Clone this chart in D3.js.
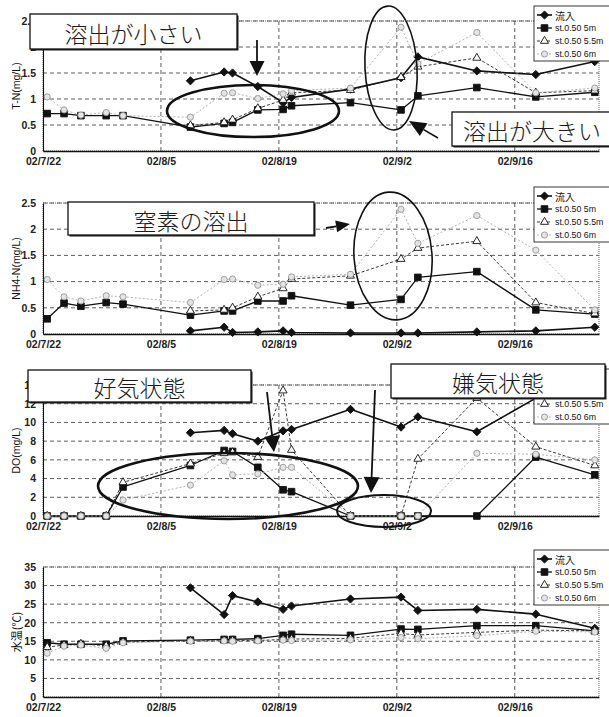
<!DOCTYPE html>
<html>
<head>
<meta charset="utf-8">
<script src="https://cdn.jsdelivr.net/npm/d3@7"></script>
<style>
  html, body { margin: 0; padding: 0; background: #fff; }
  svg { display: block; }
  .tick text { font-family: "Liberation Sans Narrow", "Liberation Sans", Arial, sans-serif; font-size: 10.5px; font-weight: bold; fill: #222; }
  .ytitle { font-family: "Liberation Sans Narrow", "Liberation Sans", Arial, sans-serif; font-size: 10.5px; fill: #111; }
  .legend text { font-family: "Liberation Sans", sans-serif; font-size: 8.8px; fill: #111; }
  .note { font-family: "Noto Sans CJK JP", sans-serif; font-weight: 300; font-size: 23px; fill: #1a1a1a; }
</style>
</head>
<body>
<svg id="chart" width="609" height="717"></svg>
<script>
// Sampling dates
const dates = ["2002-07-22","2002-07-24","2002-07-26","2002-07-29","2002-07-31",
  "2002-08-08","2002-08-12","2002-08-13","2002-08-16","2002-08-19","2002-08-20",
  "2002-08-27","2002-09-02","2002-09-04","2002-09-11","2002-09-18","2002-09-25"];
const xTickDates = ["2002-07-22","2002-08-05","2002-08-19","2002-09-02","2002-09-16"];
const seriesNames = ["流入", "st.0.50 5m", "st.0.50 5.5m", "st.0.50 6m"];

// T-N (mg/L)
const tnInflow = [null,null,null,null,null,1.35,1.52,1.50,1.24,0.93,1.03,1.19,1.41,1.81,1.54,1.47,1.72];
const tn5m     = [0.72,0.72,0.68,0.68,0.68,0.46,0.53,0.55,0.79,0.80,0.87,0.93,0.79,1.06,1.22,1.04,1.13];
const tn55m    = [null,null,null,null,null,0.49,0.55,0.60,0.82,0.98,1.12,1.17,1.42,1.62,1.79,1.12,1.16];
const tn6m     = [1.04,0.79,0.69,0.74,0.68,0.65,1.11,1.12,1.01,1.10,1.16,1.21,2.38,1.68,2.28,1.12,1.21];
const tnTicks  = [0,0.5,1,1.5,2,2.5];

// NH4-N (mg/L)
const nh4Inflow = [null,null,null,null,null,0.06,0.13,0.03,0.04,0.06,0.03,0.02,0.02,0.02,0.04,0.06,0.13];
const nh45m     = [0.29,0.59,0.53,0.60,0.57,0.36,0.44,0.44,0.63,0.63,0.73,0.55,0.66,1.08,1.19,0.46,0.38];
const nh455m    = [null,null,null,null,null,0.44,0.46,0.50,0.71,0.87,1.05,1.11,1.43,1.64,1.77,0.60,0.39];
const nh46m     = [1.04,0.71,0.63,0.73,0.71,0.60,1.04,1.05,0.93,0.95,1.09,1.14,2.38,1.73,2.26,1.60,0.46];
const nh4Ticks  = [0,0.5,1,1.5,2,2.5];

// DO (mg/L)
const doInflow = [null,null,null,null,null,8.9,9.15,8.8,8.0,9.1,9.25,11.4,9.5,10.6,9.0,12.6,12.2];
const do5m     = [0,0,0,0,3.1,5.4,7.0,6.9,5.2,2.8,2.6,0,0,0,0,6.3,4.4];
const do55m    = [0,0,0,0,3.6,5.6,6.7,6.8,6.3,13.4,7.05,0,0,6.1,12.6,7.4,5.4];
const do6m     = [0,0,0,0,1.7,3.3,5.9,4.4,4.5,5.2,5.2,0,0,0,6.7,6.6,6.0];
const doTicks  = [0,2,4,6,8,10,12,14];

// Water temperature (°C)
const tempInflow = [null,null,null,null,null,29.4,22.2,27.3,25.6,23.6,24.5,26.4,26.9,23.3,23.6,22.3,18.5];
const temp5m     = [14.6,14.2,14.2,14.2,15.1,15.3,15.5,15.5,15.7,16.6,16.9,16.6,18.3,18.2,19.2,19.2,17.8];
const temp55m    = [13.4,14.0,14.3,13.8,14.8,15.1,15.2,15.2,15.2,15.5,15.6,15.8,17.1,16.7,17.4,18.0,17.8];
const temp6m     = [11.8,13.7,14.0,13.1,14.6,15.0,15.1,15.0,15.1,15.3,15.2,15.4,16.0,15.7,16.5,17.7,17.5];
const tempTicks  = [0,5,10,15,20,25,30,35];

const svg = d3.select("#chart");
const parse = d3.utcParse("%Y-%m-%d");
const HALF_DAY = 12 * 3600 * 1000;

const x = d3.scaleUtc()
  .domain([parse("2002-07-22"), parse("2002-09-26")])
  .range([43, 599]);

const panels = [
  { top: 21,  bottom: 151, ticks: tnTicks,   title: "T-N(mg/L)",   data: [tnInflow, tn5m, tn55m, tn6m],       legendTop: 6 },
  { top: 203, bottom: 334, ticks: nh4Ticks,  title: "NH4-N(mg/L)", data: [nh4Inflow, nh45m, nh455m, nh46m],   legendTop: 187 },
  { top: 385, bottom: 516, ticks: doTicks,   title: "DO(mg/L)",    data: [doInflow, do5m, do55m, do6m],       legendTop: 369 },
  { top: 567, bottom: 697, ticks: tempTicks, title: "水温(℃)",     data: [tempInflow, temp5m, temp55m, temp6m], legendTop: 550 }
];

const diamond = { draw(ctx, size) { const h = Math.sqrt(size / 2); ctx.moveTo(0, -h); ctx.lineTo(h, 0); ctx.lineTo(0, h); ctx.lineTo(-h, 0); ctx.closePath(); } };

const styles = [
  { stroke: "#111", width: 1.6, dash: null,  symbol: diamond,           size: 34, fill: "#111", mstroke: "#111" },
  { stroke: "#111", width: 1.3, dash: null,  symbol: d3.symbolSquare,   size: 44, fill: "#111", mstroke: "#111" },
  { stroke: "#222", width: 0.9, dash: "3,2", symbol: d3.symbolTriangle, size: 28, fill: "#fff", mstroke: "#111" },
  { stroke: "#a8a8a8", width: 0.9, dash: "2,2", symbol: d3.symbolCircle, size: 30, fill: "#e4e4e4", mstroke: "#959595" }
];

panels.forEach((p, pi) => {
  const y = d3.scaleLinear().domain([0, d3.max(p.ticks)]).range([p.bottom, p.top]);
  const g = svg.append("g");

  // horizontal grid
  g.append("g").selectAll("line").data(p.ticks.filter(t => t > 0)).join("line")
    .attr("x1", x.range()[0]).attr("x2", x.range()[1])
    .attr("y1", d => y(d)).attr("y2", d => y(d))
    .attr("stroke", "#333").attr("stroke-width", 0.8).attr("stroke-dasharray", "4,3");
  // vertical grid
  g.append("g").selectAll("line").data(xTickDates.slice(1).map(parse)).join("line")
    .attr("x1", d => x(d)).attr("x2", d => x(d))
    .attr("y1", p.top).attr("y2", p.bottom)
    .attr("stroke", "#333").attr("stroke-width", 0.8).attr("stroke-dasharray", "4,3");
  // plot frame
  g.append("rect").attr("x", x.range()[0]).attr("y", p.top)
    .attr("width", x.range()[1] - x.range()[0]).attr("height", p.bottom - p.top)
    .attr("fill", "none").attr("stroke", "#666").attr("stroke-width", 1).attr("stroke-dasharray", "1,1");

  // axes
  const ya = g.append("g").attr("transform", `translate(${x.range()[0]},0)`)
    .call(d3.axisLeft(y).tickValues(p.ticks).tickSize(0).tickPadding(7).tickFormat(d3.format("")));
  ya.select(".domain").attr("stroke", "#111").attr("stroke-width", 1.1);
  const xa = g.append("g").attr("transform", `translate(0,${p.bottom})`)
    .call(d3.axisBottom(x).tickValues(xTickDates.map(parse)).tickSize(0).tickPadding(7)
      .tickFormat(d3.utcFormat("%y/%-m/%-d")));
  xa.select(".domain").attr("stroke", "#111").attr("stroke-width", 1.3);

  g.append("text").attr("class", "ytitle")
    .attr("transform", `translate(16,${(p.top + p.bottom) / 2}) rotate(-90)`)
    .attr("text-anchor", "middle").attr("dominant-baseline", "central")
    .style("font-family", pi === 3 ? "'Noto Sans CJK JP', sans-serif" : null)
    .style("font-size", pi === 3 ? "11px" : null)
    .text(p.title);

  // series
  p.data.forEach((vals, si) => {
    const st = styles[si];
    const pts = dates.map((d, i) => ({ t: new Date(parse(d).getTime() + HALF_DAY), v: vals[i] }));
    const line = d3.line().defined(d => d.v != null).x(d => x(d.t)).y(d => y(d.v));
    g.append("path").datum(pts).attr("d", line)
      .attr("fill", "none").attr("stroke", st.stroke).attr("stroke-width", st.width)
      .attr("stroke-dasharray", st.dash).attr("stroke-linejoin", "round");
    g.append("g").selectAll("path").data(pts.filter(d => d.v != null)).join("path")
      .attr("transform", d => `translate(${x(d.t)},${y(d.v)})`)
      .attr("d", d3.symbol(st.symbol, st.size))
      .attr("fill", st.fill).attr("stroke", st.mstroke).attr("stroke-width", 0.9);
  });

  // legend
  const lg = g.append("g").attr("class", "legend").attr("transform", `translate(534,${p.legendTop})`);
  lg.append("rect").attr("x", 0).attr("y", 0).attr("width", 80).attr("height", 55)
    .attr("fill", "#fff").attr("stroke", "#222").attr("stroke-width", 0.9);
  seriesNames.forEach((name, si) => {
    const st = styles[si];
    const ry = 9 + si * 13;
    lg.append("line").attr("x1", 3).attr("x2", 18).attr("y1", ry).attr("y2", ry)
      .attr("stroke", st.stroke).attr("stroke-width", st.width).attr("stroke-dasharray", st.dash);
    lg.append("path").attr("transform", `translate(10.5,${ry})`).attr("d", d3.symbol(st.symbol, st.size))
      .attr("fill", st.fill).attr("stroke", st.mstroke).attr("stroke-width", 0.9);
    lg.append("text").attr("x", 21).attr("y", ry).attr("dominant-baseline", "central")
      .style("font-family", si === 0 ? "'Noto Sans CJK JP', sans-serif" : null)
      .style("font-size", si === 0 ? "10px" : null)
      .text(name);
  });
});

// annotation helpers
const ann = svg.append("g");
function ellipse(cx, cy, rx, ry, w, rot) {
  ann.append("ellipse").attr("cx", cx).attr("cy", cy).attr("rx", rx).attr("ry", ry)
    .attr("transform", rot ? `rotate(${rot},${cx},${cy})` : null)
    .attr("fill", "none").attr("stroke", "#111").attr("stroke-width", w);
}
function arrow(x1, y1, x2, y2, headLen, headW, w) {
  const a = Math.atan2(y2 - y1, x2 - x1);
  const bx = x2 - headLen * Math.cos(a), by = y2 - headLen * Math.sin(a);
  ann.append("line").attr("x1", x1).attr("y1", y1).attr("x2", bx).attr("y2", by)
    .attr("stroke", "#111").attr("stroke-width", w);
  const nx = -Math.sin(a) * headW / 2, ny = Math.cos(a) * headW / 2;
  ann.append("path").attr("d", `M${x2},${y2}L${bx + nx},${by + ny}L${bx - nx},${by - ny}Z`).attr("fill", "#111");
}
function note(x0, y0, x1, y1, label) {
  ann.append("rect").attr("x", x0 + 1.5).attr("y", y0 + 1.5).attr("width", x1 - x0).attr("height", y1 - y0).attr("fill", "#222");
  ann.append("rect").attr("x", x0).attr("y", y0).attr("width", x1 - x0).attr("height", y1 - y0)
    .attr("fill", "#fff").attr("stroke", "#111").attr("stroke-width", 1.3);
  ann.append("text").attr("class", "note").attr("x", (x0 + x1) / 2).attr("y", (y0 + y1) / 2 + 1)
    .attr("text-anchor", "middle").attr("dominant-baseline", "central").text(label);
}

// T-N
ellipse(253, 111, 86, 26, 2.6, 0);
ellipse(391, 68, 26, 62, 1.6, -3);
arrow(257, 40, 257, 76, 15, 15, 1.8);
arrow(438, 138, 409, 121, 17, 15, 1.6);
note(30, 14, 237, 49, "溶出が小さい");
note(452, 112, 612, 146, "溶出が大きい");

// NH4-N
ellipse(393, 256, 39, 64, 1.6, -4);
arrow(326, 228, 350, 224, 14, 12, 1.8);
note(68, 202, 314, 235, "窒素の溶出");

// DO
ellipse(228, 486, 130, 33, 2.6, 0);
ellipse(384, 511, 47, 16, 2, 0);
arrow(267, 392, 274, 452, 16, 16, 1.8);
arrow(375, 390, 371, 493, 16, 16, 1.8);
note(28, 370, 251, 402, "好気状態");
note(391, 364, 605, 398, "嫌気状態");
</script>
</body>
</html>
